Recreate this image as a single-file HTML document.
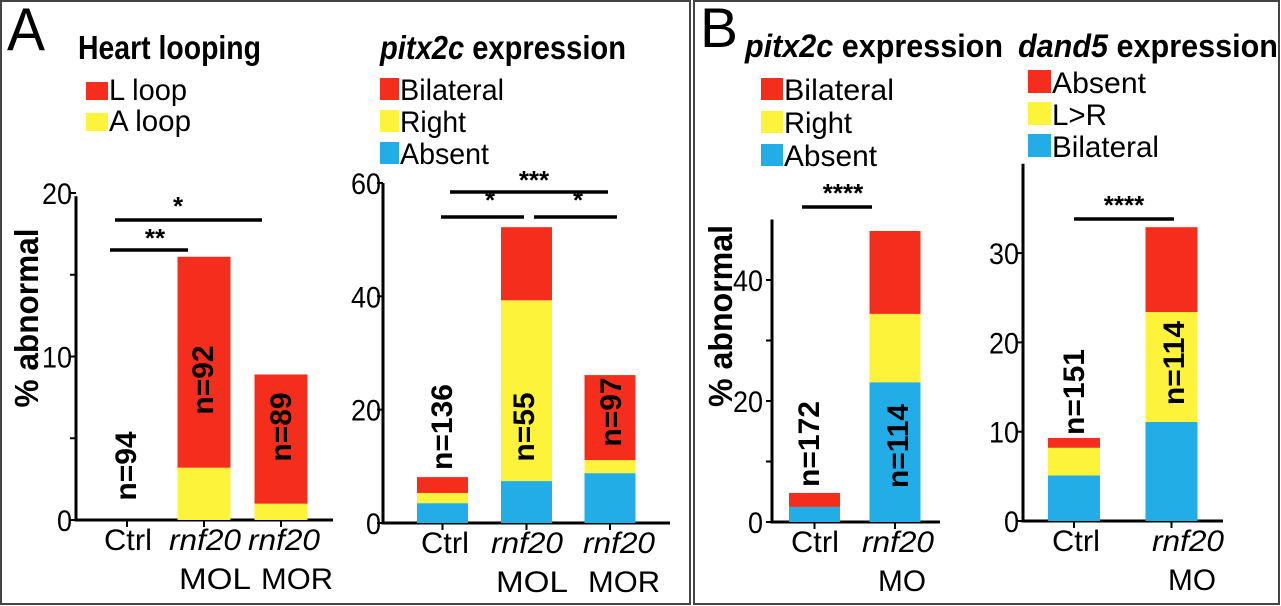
<!DOCTYPE html>
<html><head><meta charset="utf-8"><style>
html,body{margin:0;padding:0;background:#fff;}
svg{display:block;font-family:"Liberation Sans",Arial,sans-serif;}
</style></head><body>
<svg id="fig" width="1281" height="606" viewBox="0 0 1281 606" xmlns="http://www.w3.org/2000/svg">
<rect x="1" y="1" width="689" height="603" fill="none" stroke="#444" stroke-width="2"/>
<rect x="694" y="1" width="585" height="603" fill="none" stroke="#444" stroke-width="2"/>
<text x="7" y="50" font-size="60" textLength="38" lengthAdjust="spacingAndGlyphs">A</text>
<text x="700" y="47" font-size="56" textLength="38" lengthAdjust="spacingAndGlyphs">B</text>
<text x="78" y="59" font-size="33" font-weight="bold" textLength="183" lengthAdjust="spacingAndGlyphs">Heart looping</text>
<text x="380" y="59" font-size="33" font-weight="bold" textLength="246" lengthAdjust="spacingAndGlyphs"><tspan font-style="italic">pitx2c</tspan> expression</text>
<text x="745" y="57" font-size="32" font-weight="bold" textLength="258" lengthAdjust="spacingAndGlyphs"><tspan font-style="italic">pitx2c</tspan> expression</text>
<text x="1018" y="57" font-size="32" font-weight="bold" textLength="260" lengthAdjust="spacingAndGlyphs"><tspan font-style="italic">dand5</tspan> expression</text>
<g id="layer"></g>
</svg>
<script>
// ---- chart data ----
var catsA = ["Ctrl", "rnf20", "rnf20"];
var subA = ["", "MOL", "MOR"];
var catsB = ["Ctrl", "rnf20"];
var subB = ["", "MO"];
// Heart looping
var c1ALoop = [0, 3.2, 1.0];
var c1LLoop = [0, 12.9, 7.9];
var c1N = ["n=94", "n=92", "n=89"];
var c1Ticks = [0, 10, 20];
// pitx2c A
var c2Absent = [3.5, 7.4, 8.8];
var c2Right = [1.8, 31.9, 2.3];
var c2Bilateral = [2.8, 12.9, 15.0];
var c2N = ["n=136", "n=55", "n=97"];
var c2Ticks = [0, 20, 40, 60];
// pitx2c B
var c3Absent = [2.5, 23.1];
var c3Right = [0, 11.3];
var c3Bilateral = [2.3, 13.7];
var c3N = ["n=172", "n=114"];
var c3Ticks = [0, 20, 40];
// dand5
var c4Bilateral = [5.1, 11.1];
var c4LR = [3.1, 12.3];
var c4Absent = [1.1, 9.5];
var c4N = ["n=151", "n=114"];
var c4Ticks = [0, 10, 20, 30];

var RED = "#f42d1d", YEL = "#fdf33a", BLU = "#22ade6";
var NS = "http://www.w3.org/2000/svg";
var layer = document.getElementById("layer");
function mk(tag, at, txt) {
  var e = document.createElementNS(NS, tag);
  for (var k in at) e.setAttribute(k, at[k]);
  if (txt !== undefined) e.textContent = txt;
  layer.appendChild(e);
  return e;
}
function legend(x, y0, step, items, w, h, tag) {
  items.forEach(function (it, i) {
    var y = y0 + i * step;
    var r = mk("rect", {x: x, y: y, width: w, height: h, fill: it[1]});
    
    
    var t = mk("text", {x: x + w + 1, y: y + h, "font-size": 30, textLength: it[2], lengthAdjust: "spacingAndGlyphs"}, it[0]);
    
    
  });
}
legend(86, 82, 31, [["L loop", RED, 78], ["A loop", YEL, 82]], 22, 18, "heart");
legend(380, 78, 32, [["Bilateral", RED, 104], ["Right", YEL, 66], ["Absent", BLU, 89]], 19, 22, "pitx2c-a");
legend(761, 78, 33, [["Bilateral", RED, 110], ["Right", YEL, 68], ["Absent", BLU, 93]], 22, 22, "pitx2c-b");
legend(1028, 70, 32, [["Absent", RED, 94], ["L>R", YEL, 55], ["Bilateral", BLU, 107]], 23, 23, "dand5");

function chart(cfg) {
  var sy = function (v) { return cfg.y0 - v * cfg.k; };
  var ya = mk("line", {x1: cfg.ax, y1: sy(cfg.top), x2: cfg.ax, y2: cfg.y0 + 1.5, stroke: "#000", "stroke-width": 3});
  
  
  var xa = mk("line", {x1: cfg.ax - 1.5, y1: cfg.y0, x2: cfg.xe, y2: cfg.y0, stroke: "#000", "stroke-width": 3});
  
  
  cfg.minor.forEach(function (v) {
    var t = mk("line", {x1: cfg.ax - 6, y1: sy(v), x2: cfg.ax, y2: sy(v), stroke: "#000", "stroke-width": 2});
    
    
  });
  cfg.ticks.forEach(function (v) {
    var t = mk("text", {x: cfg.lx, y: sy(v) + 11, "font-size": 30, "text-anchor": "end", textLength: String(v).length * 15, lengthAdjust: "spacingAndGlyphs"}, String(v));
    
    
  });
  cfg.centers.forEach(function (cx, i) {
    var base = 0;
    cfg.series.forEach(function (s) {
      var v = s.vals[i];
      if (v > 0) {
        var r = mk("rect", {x: cx - cfg.bw / 2, y: sy(base + v), width: cfg.bw, height: v * cfg.k, fill: s.color});
        
        
      }
      base += v;
    });
    var tk = mk("line", {x1: cx, y1: cfg.y0, x2: cx, y2: cfg.y0 + 7, stroke: "#000", "stroke-width": 2});
    
    
    var nl = cfg.nPos[i];
    var n = mk("text", {x: 0, y: 0, "font-size": 30, "font-weight": "bold", "text-anchor": "middle",
      transform: "translate(" + (nl[0] + 11) + "," + nl[1] + ") rotate(-90)"}, cfg.nLab[i]);
    
    
    var c = cfg.cats[i];
    var cl = mk("text", {x: cfg.catX[i], y: cfg.y0 + 30, "font-size": 30, "text-anchor": "middle",
      "font-style": c === "Ctrl" ? "normal" : "italic", textLength: c === "Ctrl" ? 48 : 72, lengthAdjust: "spacingAndGlyphs"}, c);
    
    
    if (cfg.subs[i]) {
      var sl = mk("text", {x: cfg.subX[i], y: cfg.y0 + 69, "font-size": 30, "text-anchor": "middle",
        textLength: cfg.subs[i].length * 24, lengthAdjust: "spacingAndGlyphs"}, cfg.subs[i]);
      
      
    }
  });
  cfg.sig.forEach(function (s) {
    var l = mk("line", {x1: s[0], y1: s[2], x2: s[1], y2: s[2], stroke: "#000", "stroke-width": 3.5});
    
    
    var t = mk("text", {x: s[3], y: s[4] + 12, "font-size": 26, "font-weight": "bold", "text-anchor": "middle"}, s[5]);
    
    
  });
}

chart({tag: "heart-looping", y0: 520, k: 16.35, top: 19.8, ax: 76, xe: 333, lx: 72, bw: 53,
  ticks: c1Ticks, minor: [0, 5, 10, 15, 20], centers: [127, 204, 281],
  series: [{name: "a-loop", vals: c1ALoop, color: YEL}, {name: "l-loop", vals: c1LLoop, color: RED}],
  nLab: c1N, nPos: [[125, 466], [202, 380], [280, 427]],
  cats: catsA, subs: subA, catX: [128, 205, 284], subX: [0, 215, 297],
  sig: [[115, 262, 220, 178, 203, "*"], [110, 188, 250, 155, 235, "**"]]});

chart({tag: "pitx2c-a", y0: 523, k: 5.667, top: 60, ax: 383, xe: 670, lx: 381, bw: 51,
  ticks: c2Ticks, minor: [0, 20, 40, 60], centers: [442.5, 526.5, 610],
  series: [{name: "absent", vals: c2Absent, color: BLU}, {name: "right", vals: c2Right, color: YEL}, {name: "bilateral", vals: c2Bilateral, color: RED}],
  nLab: c2N, nPos: [[441, 427], [523, 427], [610, 412]],
  cats: catsA, subs: subA, catX: [445, 527, 619], subX: [0, 532, 624],
  sig: [[450, 608, 192, 534, 177, "***"], [441, 524, 217, 490, 197, "*"], [534, 617, 217, 578, 197, "*"]]});

chart({tag: "pitx2c-b", y0: 522, k: 6.05, top: 50, ax: 772, xe: 940, lx: 763, bw: 51,
  ticks: c3Ticks, minor: [0, 10, 20, 30, 40], centers: [814.5, 895],
  series: [{name: "absent", vals: c3Absent, color: BLU}, {name: "right", vals: c3Right, color: YEL}, {name: "bilateral", vals: c3Bilateral, color: RED}],
  nLab: c3N, nPos: [[808, 444], [897, 446]],
  cats: catsB, subs: subB, catX: [815, 898], subX: [0, 902],
  sig: [[802, 872, 207, 843, 190, "****"]]});

chart({tag: "dand5", y0: 521, k: 8.93, top: 40, ax: 1023, xe: 1223, lx: 1019, bw: 52,
  ticks: c4Ticks, minor: [0, 10, 20, 30], centers: [1074, 1171.5],
  series: [{name: "bilateral", vals: c4Bilateral, color: BLU}, {name: "l-gt-r", vals: c4LR, color: YEL}, {name: "absent", vals: c4Absent, color: RED}],
  nLab: c4N, nPos: [[1073, 392], [1173, 363]],
  cats: catsB, subs: subB, catX: [1076, 1188], subX: [0, 1192],
  sig: [[1074, 1174, 219, 1124, 202, "****"]]});

var t1 = mk("text", {x: 0, y: 0, "font-size": 33, "font-weight": "bold", "text-anchor": "middle", textLength: 179, lengthAdjust: "spacingAndGlyphs", transform: "translate(38,318) rotate(-90)"}, "% abnormal");


var t2 = mk("text", {x: 0, y: 0, "font-size": 33, "font-weight": "bold", "text-anchor": "middle", textLength: 182, lengthAdjust: "spacingAndGlyphs", transform: "translate(732,316) rotate(-90)"}, "% abnormal");


</script>
</body></html>
